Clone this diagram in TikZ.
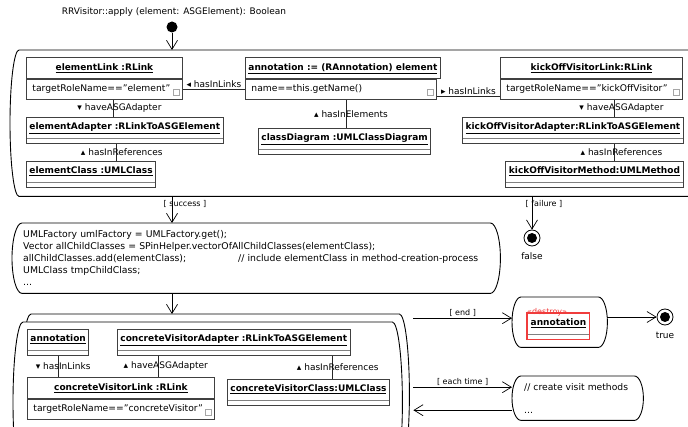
\documentclass[tikz,border=0pt]{standalone}
\usepackage{fontspec}
\setmainfont{DejaVu Sans}
\usetikzlibrary{arrows.meta,calc}
\definecolor{objline}{gray}{0.25}
\definecolor{destroyred}{RGB}{240,60,60}
% activity outline: straight top and bottom, elliptic ends
\newcommand{\actframe}[3][]{%
  \draw[frameline,#1] let \p1=(#2.north west), \p2=(#2.south east), \n1={(\y1-\y2)/2} in
    (\x1+#3,\y1) -- (\x2-#3,\y1)
    arc[start angle=90,end angle=-90,x radius=#3,y radius=\n1]
    -- (\x1+#3,\y2)
    arc[start angle=270,end angle=90,x radius=#3,y radius=\n1]
    -- cycle;}
\tikzset{
  frameline/.style={draw=black,line width=0.9pt},
  frame/.style={anchor=north west,inner sep=0pt},
  obj/.style={draw=objline,line width=0.9pt,fill=white,anchor=north west,
    inner xsep=3pt,inner ysep=0pt,text height=7pt,text depth=2.5pt,
    font=\fontsize{9}{10}\selectfont\bfseries},
  objtitle/.style={obj,minimum height=21pt},
  objbox/.style={obj,minimum height=26pt,text depth=8.5pt,
    path picture={\draw[gray,line width=0.5pt] ([yshift=5pt]path picture bounding box.south west) -- ([yshift=5pt]path picture bounding box.south east);}},
  objattr/.style={draw=objline,line width=0.9pt,fill=white,anchor=north west,
    inner xsep=6pt,inner ysep=0pt,minimum height=20pt,text height=7pt,text depth=2.5pt,align=left,
    font=\fontsize{9.2}{11}\selectfont,
    path picture={\draw[gray!70,line width=0.4pt] ([xshift=-9pt,yshift=4pt]path picture bounding box.south east) rectangle +(6pt,6pt);}},
  link/.style={draw=black!85,line width=0.9pt},
  lbl/.style={inner sep=1pt},
  flow/.style={-{Straight Barb[length=9pt,width=11pt]},line width=0.7pt},
  guard/.style={font=\fontsize{8}{9}\selectfont,inner sep=1pt},
  final/.style={circle,draw,line width=0.8pt,minimum size=16pt,inner sep=0pt,
    path picture={\fill (path picture bounding box.center) circle (5pt);}}
}
\begin{document}
\begin{tikzpicture}[x=1pt,y=-1pt,every node/.style={font=\fontsize{9}{11}\selectfont}]
  \useasboundingbox (0,0) rectangle (688,427);
  \clip (0,0) rectangle (688,427);

  \node (title) at (174,12) {RRVisitor::apply (element: ASGElement): Boolean};
  \node[circle,fill=black,minimum size=11pt,inner sep=0pt] (start) at (172,27) {};

  % activity frames
  \node[frame,minimum width=700pt,minimum height=146pt] (story) at (10,50) {};
  \actframe{story}{9pt}
  \node[frame,inner xsep=11pt,text width=466pt,minimum height=70pt,align=left,
    font=\fontsize{9.3}{12}\selectfont] (code) at (12,223) {UMLFactory umlFactory = UMLFactory.get();\\
    Vector allChildClasses = SPinHelper.vectorOfAllChildClasses(elementClass);\\
    \makebox[215pt][l]{allChildClasses.add(elementClass);}// include elementClass in method-creation-process\\
    UMLClass tmpChildClass;\\
    ...};
  \actframe{code}{10pt}
  \node[frame,minimum width=388pt,minimum height=160pt] (loopBack) at (21,314) {};
  \actframe[fill=white]{loopBack}{10pt}
  \node[frame,minimum width=389pt,minimum height=160pt] (loopFront) at (13,322) {};
  \actframe[fill=white]{loopFront}{10pt}
  \node[frame,minimum width=95pt,minimum height=50pt] (destroy) at (512,297) {};
  \actframe{destroy}{9pt}
  \node[frame,inner xsep=12pt,text width=107pt,minimum height=44pt,align=left,
    font=\fontsize{9.2}{11}\selectfont] (visit) at (512,376)
    {// create visit methods\\[12pt]...};
  \actframe{visit}{9pt}
  \node[final,label={[label distance=3pt]below:false}] (falseEnd) at (532,238) {};
  \node[final,label={[label distance=3pt]below:true}] (trueEnd) at (665,317) {};

  % control flow
  \draw[flow] (start) -- (start |- story.north);
  \draw[flow] (start |- story.south) -- (start |- code.north)
    node[guard,pos=0.28,xshift=13pt] {[ success ]};
  \draw[flow] (falseEnd |- story.south) -- (falseEnd)
    node[guard,pos=0.24,xshift=12pt] {[ failure ]};
  \draw[flow] (start |- code.south) -- (start |- loopBack.north);
  \draw[flow] ($(loopBack.east |- destroy.west)+(4,-4)$) -- ([yshift=4pt]destroy.west)
    node[guard,midway,above] {[ end ]};
  \draw[flow] (destroy.east |- trueEnd) -- (trueEnd);
  \draw[flow] ($(loopBack.east |- visit.west)+(4,-11)$) -- ([yshift=11pt]visit.west)
    node[guard,midway,above] {[ each time ]};
  \draw[flow] ([yshift=-12pt]visit.west) -- ($(loopBack.east |- visit.west)+(4,12)$);

  % first story pattern
  \node[objtitle,minimum width=156pt] (elementLink) at (26,57) {\underline{elementLink :RLink}};
  \node[objattr,text width=144pt] (elementLinkAttr) at (elementLink.south west) {targetRoleName=="element"};
  \node[objtitle,minimum width=191pt] (annotation) at (245,57) {\underline{annotation := (RAnnotation) element}};
  \node[objattr,text width=179pt] (annotationAttr) at (annotation.south west) {name==this.getName()};
  \node[objtitle,minimum width=182pt] (kickOffLink) at (500,57) {\underline{kickOffVisitorLink:RLink}};
  \node[objattr,text width=170pt] (kickOffLinkAttr) at (kickOffLink.south west) {targetRoleName=="kickOffVisitor"};
  \node[objbox,minimum width=194pt] (elementAdapter) at (26,117) {\underline{elementAdapter :RLinkToASGElement}};
  \node[objbox,minimum width=127pt] (elementClass) at (26,161) {\underline{elementClass :UMLClass}};
  \node[objbox,minimum width=166pt] (classDiagram) at (258,128) {\underline{classDiagram :UMLClassDiagram}};
  \node[objbox,minimum width=221pt] (kickOffAdapter) at (462,117) {\underline{kickOffVisitorAdapter:RLinkToASGElement}};
  \node[objbox,minimum width=178pt] (kickOffMethod) at (505,161) {\underline{kickOffVisitorMethod:UMLMethod}};

  \draw[link] (elementLinkAttr.east) -- (annotationAttr.west)
    node[lbl,midway,above] {◂ hasInLinks};
  \draw[link] ([yshift=-7pt]annotationAttr.east) -- ([yshift=-7pt]kickOffLinkAttr.west)
    node[lbl,midway,above] {▸ hasInLinks};
  \draw[link] ([xshift=9pt]elementLinkAttr.south) -- ([xshift=9pt]elementLinkAttr.south |- elementAdapter.north)
    node[lbl,midway,xshift=6pt] {▾ haveASGAdapter};
  \draw[link] ([xshift=-8pt]elementAdapter.south) -- ([xshift=-8pt]elementAdapter.south |- elementClass.north)
    node[lbl,midway,xshift=5pt] {▴ hasInReferences};
  \draw[link] ([xshift=5pt]annotationAttr.south) -- ([xshift=5pt]annotationAttr.south |- classDiagram.north)
    node[lbl,midway,xshift=5pt] {▴ hasInElements};
  \draw[link] ([xshift=23pt]kickOffLinkAttr.south) -- ([xshift=23pt]kickOffLinkAttr.south |- kickOffAdapter.north)
    node[lbl,midway,xshift=7pt] {▾ haveASGAdapter};
  \draw[link] ([xshift=23pt]kickOffLinkAttr.south |- kickOffAdapter.south) -- ([xshift=23pt]kickOffLinkAttr.south |- kickOffMethod.north)
    node[lbl,midway,xshift=7pt] {▴ hasInReferences};

  % loop body
  \node[objbox,minimum width=61pt] (boundAnnotation) at (27,329) {\underline{annotation}};
  \node[objbox,minimum width=226pt] (concreteAdapter) at (117,329) {\underline{concreteVisitorAdapter :RLinkToASGElement}};
  \node[objtitle,minimum width=187pt] (concreteLink) at (27,377) {\underline{concreteVisitorLink :RLink}};
  \node[objattr,text width=175pt] (concreteLinkAttr) at (concreteLink.south west) {targetRoleName=="concreteVisitor"};
  \node[objbox,minimum width=160pt] (concreteClass) at (227,379) {\underline{concreteVisitorClass:UMLClass}};

  \draw[link] (boundAnnotation.south) -- (boundAnnotation.south |- concreteLink.north)
    node[lbl,midway,xshift=5pt] {▾ hasInLinks};
  \draw[link] ([xshift=-75pt]concreteAdapter.south) -- ([xshift=-75pt]concreteAdapter.south |- concreteLink.north)
    node[lbl,midway,xshift=7pt] {▴ haveASGAdapter};
  \draw[link] ([xshift=99pt]concreteAdapter.south) -- ([xshift=99pt]concreteAdapter.south |- concreteClass.north)
    node[lbl,midway,xshift=5pt] {▴ hasInReferences};

  % destroyed object
  \node[objbox,draw=none,minimum width=62pt,
    label={[text=destroyred,font=\fontsize{8}{9}\selectfont,anchor=base west,yshift=-1.5pt,inner sep=0pt]north west:«destroy»}]
    (destroyObj) at (527,313) {\underline{annotation}};
  \draw[destroyred,line width=1.1pt] (destroyObj.north west) rectangle (destroyObj.south east);
\end{tikzpicture}
\end{document}
